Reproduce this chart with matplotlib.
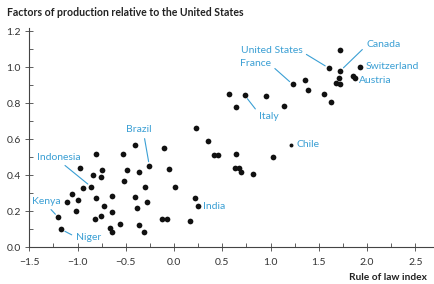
import matplotlib
matplotlib.use("Agg")
import matplotlib.pyplot as plt
from matplotlib.ticker import MultipleLocator

plt.rcParams['font.family'] = ['Lato', 'DejaVu Sans']

# rule of law index (x) and factors of production relative to US (y)
law_index = [-0.81, -0.53, -0.97, -0.75, -0.84, -0.76, -0.515, -0.94, -0.86, -1.06,
             -1.105, -1.0, -0.81, -0.64, -0.73, -1.02, -0.64, -0.76, -0.82, -1.2,
             -0.565, -0.66, -0.645, -1.17,
             0.228, -0.404, 0.347, -0.107, 0.415, 0.453, -0.256, -0.487, -0.366, -0.049,
             0.01, -0.304, -0.401, -0.28, -0.387, 0.221, 0.245, -0.363, -0.127, -0.073,
             0.169, -0.311,
             0.567, 0.733, 0.957, 0.639, 1.137, 0.639, 1.023, 0.629, 0.67, 0.694, 0.819,
             1.724, 1.603, 1.724, 1.927, 1.85, 1.87, 1.71, 1.68, 1.72, 1.23, 1.358,
             1.39, 1.557, 1.623]
factors = [0.518, 0.518, 0.443, 0.43, 0.403, 0.39, 0.367, 0.329, 0.337, 0.294,
           0.253, 0.264, 0.274, 0.285, 0.231, 0.203, 0.196, 0.172, 0.156, 0.167,
           0.131, 0.106, 0.087, 0.1,
           0.663, 0.571, 0.588, 0.552, 0.512, 0.512, 0.453, 0.427, 0.418, 0.435,
           0.337, 0.333, 0.279, 0.25, 0.216, 0.272, 0.231, 0.126, 0.157, 0.159,
           0.144, 0.085,
           0.853, 0.844, 0.842, 0.778, 0.785, 0.52, 0.5, 0.442, 0.442, 0.418, 0.409,
           1.094, 0.996, 0.981, 1.0, 0.952, 0.942, 0.94, 0.915, 0.905, 0.905, 0.928,
           0.876, 0.853, 0.806]

chile = (1.209, 0.57)

# labelled countries: name, point, text position, alignment, leader line start (relpos) or None
labels = [
    ("United States", (1.603, 0.996), (1.33, 1.095), 'right', (1.0, 0.3)),
    ("France", (1.23, 0.905), (1.005, 1.022), 'right', (1.0, 0.3)),
    ("Canada", (1.724, 0.981), (1.99, 1.129), 'left', (0.0, 0.3)),
    ("Switzerland", (1.927, 1.0), (1.99, 1.003), 'left', None),
    ("Austria", (1.87, 0.942), (1.92, 0.929), 'left', None),
    ("Italy", (0.733, 0.844), (0.88, 0.728), 'left', (0.0, 0.8)),
    ("Chile", chile, (1.27, 0.57), 'left', None),
    ("India", (0.245, 0.231), (0.30, 0.229), 'left', None),
    ("Brazil", (-0.256, 0.453), (-0.366, 0.652), 'center', (0.7, 0.0)),
    ("Indonesia", (-0.86, 0.337), (-1.425, 0.5), 'left', (0.55, 0.0)),
    ("Kenya", (-1.2, 0.167), (-1.475, 0.256), 'left', (0.55, 0.0)),
    ("Niger", (-1.17, 0.1), (-1.019, 0.053), 'left', (0.0, 0.6)),
]

blue = '#3a9fd4'
axcol = '#444444'

fig = plt.figure(figsize=(4.34, 2.84), dpi=100)
ax = fig.add_axes([0.0675, 0.129, 0.9295, 0.7735])

ax.scatter(law_index, factors, s=17, color='#111111', zorder=3, linewidths=0)
ax.scatter([chile[0]], [chile[1]], s=8, color='#111111', zorder=3, linewidths=0)

for name, pt, txt, ha, rel in labels:
    if rel is None:
        ax.text(txt[0], txt[1], name, color=blue, fontsize=7.5, ha=ha, va='center')
    else:
        ax.annotate(name, xy=pt, xytext=txt, color=blue, fontsize=7.5, ha=ha, va='center',
                    arrowprops=dict(arrowstyle='-', color=blue, lw=0.8, relpos=rel,
                                    shrinkA=1, shrinkB=3))

ax.set_xlim(-1.5, 2.68)
ax.set_ylim(0, 1.22)
ax.xaxis.set_major_locator(MultipleLocator(0.5))
ax.xaxis.set_minor_locator(MultipleLocator(0.25))
ax.yaxis.set_major_locator(MultipleLocator(0.2))
ax.yaxis.set_minor_locator(MultipleLocator(0.1))
ax.xaxis.set_major_formatter(plt.FuncFormatter(lambda v, p: f"{v:.1f}".replace('-', '\u2212')))
ax.yaxis.set_major_formatter(plt.FuncFormatter(lambda v, p: f"{v:.1f}"))

for s in ['top', 'right']:
    ax.spines[s].set_visible(False)
for s in ['left', 'bottom']:
    ax.spines[s].set_color(axcol)
    ax.spines[s].set_linewidth(0.8)

ax.tick_params(which='major', direction='inout', length=6, width=0.6, color=axcol,
               labelsize=7.5, labelcolor='#333333')
ax.tick_params(axis='x', which='major', pad=5)
ax.tick_params(axis='y', which='major', pad=3)
ax.tick_params(which='minor', direction='in', length=3, width=0.6, color=axcol)

fig.text(0.016, 1 - 12.7 / 284, "Factors of production relative to the United States",
         fontsize=7.6, fontweight='bold', color='#222222', ha='left', va='center')
fig.text(426.7 / 434, 1 - 278 / 284, "Rule of law index",
         fontsize=7.3, fontweight='bold', color='#222222', ha='right', va='center')

fig.savefig('out.png', dpi=100)
